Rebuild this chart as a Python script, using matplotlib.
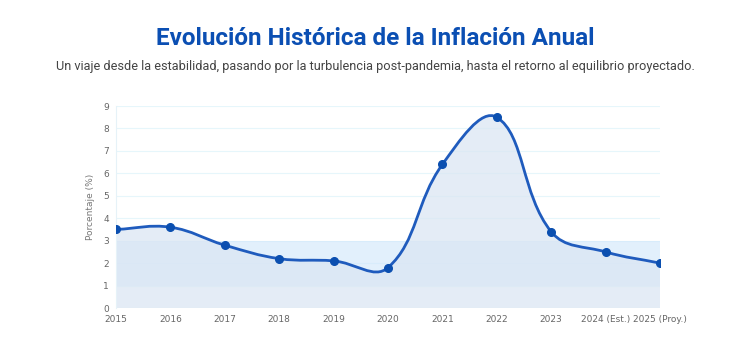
import numpy as np
import matplotlib.pyplot as plt
from matplotlib.path import Path
from matplotlib.patches import PathPatch

# Annual inflation (%)
years = ['2015', '2016', '2017', '2018', '2019', '2020', '2021', '2022',
         '2023', '2024 (Est.)', '2025 (Proy.)']
inflation = [3.5, 3.6, 2.8, 2.2, 2.1, 1.8, 6.4, 8.5, 3.4, 2.5, 2.0]
target_low, target_high = 1, 3

x = np.arange(len(years))
y = np.array(inflation, dtype=float)
n = len(x)

# smooth line like Chart.js spline (tension 0.4), control points in pixel space
sx, sy = 54.4, 22.4
tension = 0.4
cps = []
for i in range(n):
    p = np.array([x[i] * sx, y[i] * sy])
    prev = np.array([x[max(i - 1, 0)] * sx, y[max(i - 1, 0)] * sy])
    nxt = np.array([x[min(i + 1, n - 1)] * sx, y[min(i + 1, n - 1)] * sy])
    d01 = np.hypot(*(p - prev))
    d12 = np.hypot(*(nxt - p))
    tot = d01 + d12 if d01 + d12 > 0 else 1
    c_prev = p - tension * d01 / tot * (nxt - prev)
    c_next = p + tension * d12 / tot * (nxt - prev)
    cps.append((c_prev / [sx, sy], c_next / [sx, sy]))

verts = [(x[0], y[0])]
codes = [Path.MOVETO]
for i in range(n - 1):
    verts += [tuple(cps[i][1]), tuple(cps[i + 1][0]), (x[i + 1], y[i + 1])]
    codes += [Path.CURVE4] * 3

fill_verts = verts + [(x[-1], 0), (x[0], 0), (x[0], y[0])]
fill_codes = codes + [Path.LINETO, Path.LINETO, Path.CLOSEPOLY]

fig = plt.figure(figsize=(7.5, 3.5), dpi=100)
ax = fig.add_axes([0.1547, 0.12, 0.7253, 0.577])

ax.axhspan(target_low, target_high, color='#cfe6fb', alpha=0.6, lw=0, zorder=1)
ax.add_patch(PathPatch(Path(fill_verts, fill_codes), facecolor='#dbe6f3',
                       alpha=0.75, lw=0, zorder=2))
ax.add_patch(PathPatch(Path(verts, codes), facecolor='none', edgecolor='#1f5bbd',
                       lw=2, zorder=3, capstyle='round', joinstyle='round'))
ax.plot(x, y, 'o', color='#0b4fb0', ms=5.5, zorder=4)

ax.set_xlim(0, n - 1)
ax.set_ylim(0, 9)
ax.set_xticks(x)
ax.set_xticklabels(years)
ax.set_yticks(range(0, 10))
ax.grid(axis='y', color='#e6f6fb', lw=0.8)
ax.set_axisbelow(True)
for s in ['top', 'right', 'bottom']:
    ax.spines[s].set_visible(False)
ax.spines['left'].set_color('#e6f2f8')
ax.tick_params(length=0, labelsize=6.5, labelcolor='#666666', pad=5)
ax.set_ylabel('Porcentaje (%)', fontsize=6.5, color='#777777', labelpad=6)

fig.text(0.5, 0.89, 'Evolución Histórica de la Inflación Anual', ha='center',
         va='center', fontsize=17.5, fontweight='bold', color='#0b4fb3',
         family='Roboto')
fig.text(0.5, 0.81, 'Un viaje desde la estabilidad, pasando por la turbulencia '
         'post-pandemia, hasta el retorno al equilibrio proyectado.',
         ha='center', va='center', fontsize=9.2, color='#444444', family='Roboto')

fig.savefig('out.png', dpi=100)
